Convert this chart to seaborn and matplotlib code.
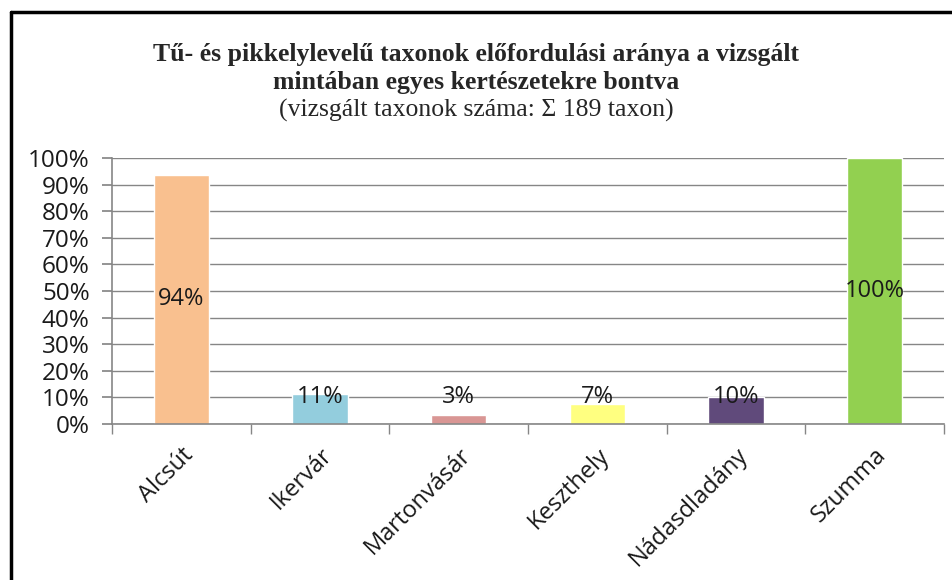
import pandas as pd
import matplotlib
matplotlib.use('Agg')
from matplotlib import pyplot as plt
from matplotlib.lines import Line2D
from matplotlib.ticker import PercentFormatter, FixedLocator
import seaborn as sns

sns.set_theme(style='white')
plt.rcParams['font.family'] = ['Open Sans', 'DejaVu Sans']

# data
helyek = ['Alcsút', 'Ikervár', 'Martonvásár', 'Keszthely', 'Nádasdladány', 'Szumma']
arany = [0.937, 0.111, 0.032, 0.074, 0.101, 1.0]
feliratok = ['94%', '11%', '3%', '7%', '10%', '100%']
szinek = ['#F9C08F', '#93CDDD', '#D99694', '#FFFF80', '#604A7B', '#92D050']

df = pd.DataFrame({'hely': helyek, 'arany': arany})

fig = plt.figure(figsize=(9.53, 5.80), dpi=100)
ax = fig.add_axes([0.1175, 0.269, 0.873, 0.4586])

sns.barplot(data=df, x='hely', y='arany', hue='hely', palette=szinek,
            width=0.4, saturation=1, legend=False, ax=ax)

ax.set_ylim(0, 1)
ax.set_xlim(-0.5, len(helyek) - 0.5)
ax.yaxis.set_major_formatter(PercentFormatter(1.0, decimals=0))
ax.set_yticks([i / 10 for i in range(11)])
ax.yaxis.grid(True, color='#868686', linewidth=1)
ax.set_axisbelow(True)
for s in ['top', 'right']:
    ax.spines[s].set_visible(False)
for s in ['left', 'bottom']:
    ax.spines[s].set_color('#868686')
    ax.spines[s].set_linewidth(1.2)
ax.tick_params(axis='y', which='major', left=True, length=7, color='#868686',
               labelsize=17.5, labelcolor='#1a1a1a', pad=9)
# category boundary ticks
ax.xaxis.set_minor_locator(FixedLocator([i - 0.5 for i in range(len(helyek) + 1)]))
ax.tick_params(axis='x', which='minor', bottom=True, length=7, color='#868686')
ax.tick_params(axis='x', which='major', bottom=False, length=0, labelsize=17,
               pad=14, labelcolor='#1a1a1a')
ax.set_xlabel('')
ax.set_ylabel('')
plt.setp(ax.get_xticklabels(), rotation=45, ha='right', va='top',
         rotation_mode='anchor')
for lbl in ax.get_xticklabels():
    lbl.set_x(lbl.get_position()[0] + 0.04)

for i, (v, t) in enumerate(zip(arany, feliratok)):
    ax.text(i, max(v / 2, 0.10), t, ha='center', va='center', fontsize=17,
            color='#1a1a1a')

fig.text(0.5, 0.882, 'Tű- és pikkelylevelű taxonok előfordulási aránya a vizsgált\nmintában egyes kertészetekre bontva',
         ha='center', va='center', family='Liberation Serif', fontweight='bold',
         fontsize=18.5, linespacing=1.28)
fig.text(0.5, 0.81, '(vizsgált taxonok száma: Σ 189 taxon)', ha='center', va='center',
         family='Liberation Serif', fontsize=18.5)

# frame of the original chart
fig.add_artist(Line2D([0.0115, 0.0115], [0, 0.979], color='black', linewidth=2.5))
fig.add_artist(Line2D([0.0115, 1.0], [0.979, 0.979], color='black', linewidth=2.5))

fig.savefig('out.png', dpi=100)
